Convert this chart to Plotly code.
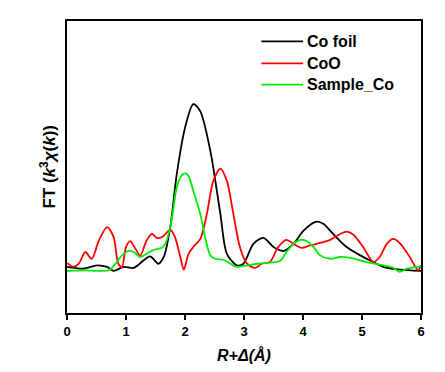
import plotly.graph_objects as go

# Co foil
co_foil_r = [0.00, 0.28, 0.51, 0.68, 0.79, 0.96, 1.13, 1.30, 1.41, 1.55, 1.64, 1.75, 1.86, 2.00, 2.14, 2.26,
             2.43, 2.60, 2.71, 2.88, 2.99, 3.16, 3.33, 3.50, 3.67, 3.84, 4.01, 4.23, 4.35, 4.51, 4.74,
             4.97, 5.19, 5.36, 5.64, 6.00]
co_foil_ft = [2.32, 2.23, 2.40, 2.32, 2.12, 2.32, 2.27, 2.65, 2.85, 2.48, 2.82, 4.32, 6.98, 9.32, 10.52, 10.15,
              8.15, 4.98, 2.98, 2.40, 2.48, 3.48, 3.78, 3.32, 3.12, 3.48, 4.15, 4.60, 4.48, 3.98, 3.32,
              2.90, 2.57, 2.32, 2.18, 2.12]

# CoO
coo_r = [0.00, 0.11, 0.20, 0.31, 0.42, 0.54, 0.68, 0.79, 0.87, 0.93, 1.00, 1.07, 1.16, 1.24, 1.35, 1.44,
         1.52, 1.61, 1.75, 1.83, 1.92, 1.98, 2.06, 2.14, 2.26, 2.37, 2.48, 2.60, 2.71, 2.82, 2.93,
         3.05, 3.19, 3.30, 3.44, 3.58, 3.72, 3.84, 3.98, 4.12, 4.29, 4.46, 4.63, 4.74, 4.85, 5.02,
         5.19, 5.30, 5.42, 5.53, 5.64, 5.81, 5.95, 6.00]
coo_ft = [2.52, 2.32, 2.48, 3.07, 2.73, 3.65, 4.32, 3.82, 2.48, 2.32, 3.32, 3.62, 3.23, 2.90, 3.65, 3.98,
          3.78, 3.82, 4.18, 3.82, 2.82, 2.18, 2.98, 3.32, 3.73, 4.98, 6.65, 7.27, 6.65, 4.98, 3.32,
          2.48, 2.27, 2.48, 2.57, 3.32, 3.68, 3.48, 3.28, 3.40, 3.53, 3.68, 3.98, 4.10, 3.95, 3.32,
          2.57, 2.82, 3.48, 3.73, 3.52, 2.82, 2.15, 2.40]

# Sample_Co
sample_r = [0.00, 0.28, 0.56, 0.71, 0.82, 0.93, 1.04, 1.13, 1.24, 1.35, 1.47, 1.61, 1.69, 1.78, 1.86, 1.95,
            2.00, 2.06, 2.14, 2.26, 2.34, 2.43, 2.51, 2.65, 2.77, 2.88, 3.05, 3.22, 3.39, 3.61, 3.72,
            3.84, 3.95, 4.06, 4.18, 4.29, 4.46, 4.63, 4.80, 4.97, 5.14, 5.36, 5.53, 5.64, 5.76, 6.00]
sample_ft = [2.12, 2.15, 2.12, 2.15, 2.48, 2.90, 3.12, 3.07, 2.82, 2.98, 3.18, 3.28, 3.65, 4.82, 6.32, 6.95,
             7.03, 6.90, 6.15, 4.98, 3.82, 2.90, 2.73, 2.68, 2.48, 2.32, 2.40, 2.48, 2.52, 2.62, 3.07,
             3.48, 3.68, 3.62, 3.32, 2.90, 2.73, 2.82, 2.78, 2.65, 2.52, 2.40, 2.28, 2.07, 2.23, 2.35]

series_names = ["Co foil", "CoO", "Sample_Co"]
series_colors = ["#000000", "#ff0000", "#00ee00"]
x_ticks = [0, 1, 2, 3, 4, 5, 6]

FONT = "Arial, Liberation Sans, sans-serif"

fig = go.Figure()
for name, xs, ys, col in zip(series_names, [co_foil_r, coo_r, sample_r],
                             [co_foil_ft, coo_ft, sample_ft], series_colors):
    fig.add_trace(go.Scatter(x=xs, y=ys, mode="lines", name=name,
                             line=dict(color=col, width=1.8, shape="spline", smoothing=0.8),
                             showlegend=False))

# page body has an 8px margin, so the figure is 8px smaller and margins shifted
fig.update_layout(
    width=437, height=364,
    margin=dict(l=59, r=24, t=11, b=59, pad=0),
    paper_bgcolor="white", plot_bgcolor="white",
    font=dict(family=FONT, color="black"),
    xaxis=dict(range=[0, 6], tickvals=x_ticks, ticks="outside", ticklen=5, tickwidth=2,
               tickcolor="black", showline=True, linewidth=2, linecolor="black", mirror=True,
               showgrid=False, zeroline=False,
               tickfont=dict(family=FONT, size=13, weight="bold", color="black")),
    yaxis=dict(range=[0, 14.7], showticklabels=False, ticks="", showline=True, linewidth=2,
               linecolor="black", mirror=True, showgrid=False, zeroline=False),
)

# legend drawn manually
leg_y = [0.93, 0.855, 0.782]
for name, col, yy in zip(series_names, series_colors, leg_y):
    fig.add_shape(type="line", xref="paper", yref="paper", x0=0.549, x1=0.667, y0=yy, y1=yy,
                  line=dict(color=col, width=1.8))
    fig.add_annotation(xref="paper", yref="paper", x=0.672, y=yy, text=name, showarrow=False,
                       xanchor="left", yanchor="middle",
                       font=dict(family=FONT, size=16, weight="bold", color="black"))

fig.add_annotation(xref="paper", yref="paper", x=0.5, y=-0.145, yanchor="middle",
                   text="<i>R+Δ(Å)</i>", showarrow=False,
                   font=dict(family=FONT, size=16, weight="bold", color="black"))
fig.add_annotation(xref="paper", yref="paper", x=-0.055, y=0.5, xanchor="center", yanchor="middle",
                   text="FT (<i>k</i><sup>3</sup><i>χ</i>(<i>k</i>))", textangle=-90, showarrow=False,
                   font=dict(family=FONT, size=17, weight="bold", color="black"))

fig.write_html("out.html")
